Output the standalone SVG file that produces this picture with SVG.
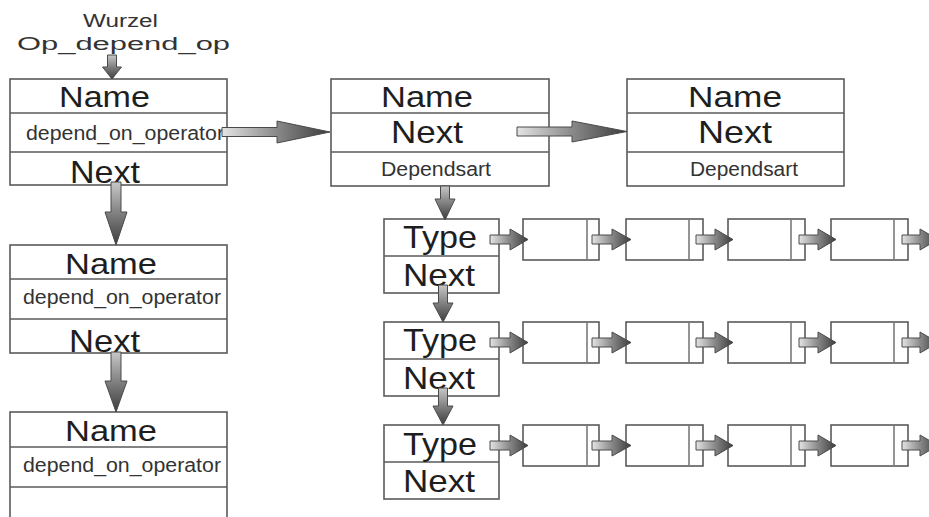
<svg xmlns="http://www.w3.org/2000/svg" width="929" height="517" viewBox="0 0 929 517">
  <style>
    .box { fill: #ffffff; stroke: #5a5a5a; stroke-width: 1.6; }
    .sep { fill: none; stroke: #5a5a5a; stroke-width: 1.6; }
    .inner { fill: none; stroke: #7a7a7a; stroke-width: 1.6; }
    text { font-family: "Liberation Sans", Arial, sans-serif; fill: #1e1e1e; }
    .big { font-size: 30px; }
    .mid { font-size: 32px; }
    .small { font-size: 20px; fill: #333333; }
    .label { font-size: 18px; fill: #333333; }
    .arrH { fill: url(#gradH); stroke: #4a4a4a; stroke-width: 1; }
    .arrV { fill: url(#gradV); stroke: #4a4a4a; stroke-width: 1; }
  </style>
  <defs>
    <linearGradient id="gradH" x1="0" y1="0" x2="1" y2="0">
      <stop offset="0" stop-color="#e4e4e4"/>
      <stop offset="0.5" stop-color="#8a8a8a"/>
      <stop offset="1" stop-color="#3c3c3c"/>
    </linearGradient>
    <linearGradient id="gradV" x1="0" y1="0" x2="0" y2="1">
      <stop offset="0" stop-color="#c8c8c8"/>
      <stop offset="0.5" stop-color="#808080"/>
      <stop offset="1" stop-color="#3c3c3c"/>
    </linearGradient>
  </defs>

  <!-- root pointer label -->
  <g id="root-label">
    <text class="label" x="83" y="27" textLength="75" lengthAdjust="spacingAndGlyphs">Wurzel</text>
    <text class="label" x="17" y="50" textLength="213" lengthAdjust="spacingAndGlyphs">Op_depend_op</text>
  </g>

  <!-- left column: operator list -->
  <g id="op1">
    <rect class="box" x="10" y="79" width="217" height="106"/>
    <line class="sep" x1="10" y1="113" x2="227" y2="113"/>
    <line class="sep" x1="10" y1="152" x2="227" y2="152"/>
    <text class="big" x="59" y="107" textLength="91" lengthAdjust="spacingAndGlyphs">Name</text>
    <text class="small" x="26" y="140" textLength="198" lengthAdjust="spacingAndGlyphs">depend_on_operator</text>
    <text class="mid" x="70" y="183" textLength="70" lengthAdjust="spacingAndGlyphs">Next</text>
  </g>
  <g id="op2">
    <rect class="box" x="10" y="245" width="217" height="108"/>
    <line class="sep" x1="10" y1="279" x2="227" y2="279"/>
    <line class="sep" x1="10" y1="319" x2="227" y2="319"/>
    <text class="big" x="65" y="274" textLength="92" lengthAdjust="spacingAndGlyphs">Name</text>
    <text class="small" x="23" y="304" textLength="198" lengthAdjust="spacingAndGlyphs">depend_on_operator</text>
    <text class="mid" x="69" y="352" textLength="71" lengthAdjust="spacingAndGlyphs">Next</text>
  </g>
  <g id="op3">
    <rect class="box" x="10" y="412" width="217" height="120"/>
    <line class="sep" x1="10" y1="447" x2="227" y2="447"/>
    <line class="sep" x1="10" y1="487" x2="227" y2="487"/>
    <text class="big" x="65" y="441" textLength="92" lengthAdjust="spacingAndGlyphs">Name</text>
    <text class="small" x="23" y="472" textLength="198" lengthAdjust="spacingAndGlyphs">depend_on_operator</text>
  </g>

  <!-- dependency entries -->
  <g id="dep1">
    <rect class="box" x="331" y="79" width="218" height="107"/>
    <line class="sep" x1="331" y1="113" x2="549" y2="113"/>
    <line class="sep" x1="331" y1="152" x2="549" y2="152"/>
    <text class="big" x="381" y="107" textLength="92" lengthAdjust="spacingAndGlyphs">Name</text>
    <text class="mid" x="391" y="143" textLength="72" lengthAdjust="spacingAndGlyphs">Next</text>
    <text class="small" x="381" y="176" textLength="110" lengthAdjust="spacingAndGlyphs">Dependsart</text>
  </g>
  <g id="dep2">
    <rect class="box" x="627" y="79" width="217" height="107"/>
    <line class="sep" x1="627" y1="113" x2="844" y2="113"/>
    <line class="sep" x1="627" y1="152" x2="844" y2="152"/>
    <text class="big" x="688" y="107" textLength="94" lengthAdjust="spacingAndGlyphs">Name</text>
    <text class="mid" x="698" y="143" textLength="74" lengthAdjust="spacingAndGlyphs">Next</text>
    <text class="small" x="690" y="176" textLength="108" lengthAdjust="spacingAndGlyphs">Dependsart</text>
  </g>

  <!-- type entries -->
  <g id="type1">
    <rect class="box" x="384" y="219" width="115" height="74"/>
    <line class="sep" x1="384" y1="256" x2="499" y2="256"/>
    <text class="mid" x="403" y="248" textLength="74" lengthAdjust="spacingAndGlyphs">Type</text>
    <text class="mid" x="403" y="286" textLength="72" lengthAdjust="spacingAndGlyphs">Next</text>
  </g>
  <g id="type2">
    <rect class="box" x="384" y="322" width="115" height="74"/>
    <line class="sep" x1="384" y1="359" x2="499" y2="359"/>
    <text class="mid" x="403" y="351" textLength="74" lengthAdjust="spacingAndGlyphs">Type</text>
    <text class="mid" x="403" y="389" textLength="72" lengthAdjust="spacingAndGlyphs">Next</text>
  </g>
  <g id="type3">
    <rect class="box" x="384" y="425" width="115" height="74"/>
    <line class="sep" x1="384" y1="462" x2="499" y2="462"/>
    <text class="mid" x="403" y="455" textLength="74" lengthAdjust="spacingAndGlyphs">Type</text>
    <text class="mid" x="403" y="492" textLength="72" lengthAdjust="spacingAndGlyphs">Next</text>
  </g>

  <!-- element chains, row 1 -->
  <g id="r1c1"><rect class="box" x="523" y="219" width="76" height="41"/><line class="inner" x1="587" y1="219" x2="587" y2="260"/></g>
  <g id="r1c2"><rect class="box" x="626" y="219" width="77" height="41"/><line class="inner" x1="689" y1="219" x2="689" y2="260"/></g>
  <g id="r1c3"><rect class="box" x="728" y="219" width="77" height="41"/><line class="inner" x1="791" y1="219" x2="791" y2="260"/></g>
  <g id="r1c4"><rect class="box" x="831" y="219" width="77" height="41"/><line class="inner" x1="894" y1="219" x2="894" y2="260"/></g>
  <!-- row 2 -->
  <g id="r2c1"><rect class="box" x="523" y="322" width="76" height="41"/><line class="inner" x1="587" y1="322" x2="587" y2="363"/></g>
  <g id="r2c2"><rect class="box" x="626" y="322" width="77" height="41"/><line class="inner" x1="689" y1="322" x2="689" y2="363"/></g>
  <g id="r2c3"><rect class="box" x="728" y="322" width="77" height="41"/><line class="inner" x1="791" y1="322" x2="791" y2="363"/></g>
  <g id="r2c4"><rect class="box" x="831" y="322" width="77" height="41"/><line class="inner" x1="894" y1="322" x2="894" y2="363"/></g>
  <!-- row 3 -->
  <g id="r3c1"><rect class="box" x="523" y="425" width="76" height="41"/><line class="inner" x1="587" y1="425" x2="587" y2="466"/></g>
  <g id="r3c2"><rect class="box" x="626" y="425" width="77" height="41"/><line class="inner" x1="689" y1="425" x2="689" y2="466"/></g>
  <g id="r3c3"><rect class="box" x="728" y="425" width="77" height="41"/><line class="inner" x1="791" y1="425" x2="791" y2="466"/></g>
  <g id="r3c4"><rect class="box" x="831" y="425" width="77" height="41"/><line class="inner" x1="894" y1="425" x2="894" y2="466"/></g>

  <!-- block arrows -->
  <g id="connectors">
    <!-- vertical -->
    <polygon class="arrV" points="107.5,55 116.5,55 116.5,67 121.5,67 112,79 102.5,67 107.5,67"/>
    <polygon class="arrV" points="111,182 121,182 121,212 127,212 116,245 105,212 111,212"/>
    <polygon class="arrV" points="111,352 121,352 121,381 127,381 116,412 105,381 111,381"/>
    <polygon class="arrV" points="440.5,186 449.5,186 449.5,199 455,199 445,220 435,199 440.5,199"/>
    <polygon class="arrV" points="438.5,285 447.5,285 447.5,303 453,303 443,322 433,303 438.5,303"/>
    <polygon class="arrV" points="438.5,388 447.5,388 447.5,406 453,406 443,425 433,406 438.5,406"/>

    <!-- horizontal, top level -->
    <polygon class="arrH" points="222,127.5 277,127.5 277,121 330,132 277,143 277,136.5 222,136.5"/>
    <polygon class="arrH" points="517,127 572,127 572,121 627,131.5 572,142 572,136 517,136"/>

    <!-- row 1 -->
    <polygon class="arrH" points="490,235 510,235 510,229 528,239.5 510,250 510,244 490,244"/>
    <polygon class="arrH" points="592,235 612,235 612,229 631,239.5 612,250 612,244 592,244"/>
    <polygon class="arrH" points="696,235 715,235 715,229 733,239.5 715,250 715,244 696,244"/>
    <polygon class="arrH" points="799,235 818,235 818,229 836,239.5 818,250 818,244 799,244"/>
    <polygon class="arrH" points="902,235 920,235 920,229 938,239.5 920,250 920,244 902,244"/>
    <!-- row 2 -->
    <polygon class="arrH" points="490,338 510,338 510,332 528,342.5 510,353 510,347 490,347"/>
    <polygon class="arrH" points="592,338 612,338 612,332 631,342.5 612,353 612,347 592,347"/>
    <polygon class="arrH" points="696,338 715,338 715,332 733,342.5 715,353 715,347 696,347"/>
    <polygon class="arrH" points="799,338 818,338 818,332 836,342.5 818,353 818,347 799,347"/>
    <polygon class="arrH" points="902,338 920,338 920,332 938,342.5 920,353 920,347 902,347"/>
    <!-- row 3 -->
    <polygon class="arrH" points="490,441 510,441 510,435 528,445.5 510,456 510,450 490,450"/>
    <polygon class="arrH" points="592,441 612,441 612,435 631,445.5 612,456 612,450 592,450"/>
    <polygon class="arrH" points="696,441 715,441 715,435 733,445.5 715,456 715,450 696,450"/>
    <polygon class="arrH" points="799,441 818,441 818,435 836,445.5 818,456 818,450 799,450"/>
    <polygon class="arrH" points="902,441 920,441 920,435 938,445.5 920,456 920,450 902,450"/>
  </g>
</svg>
